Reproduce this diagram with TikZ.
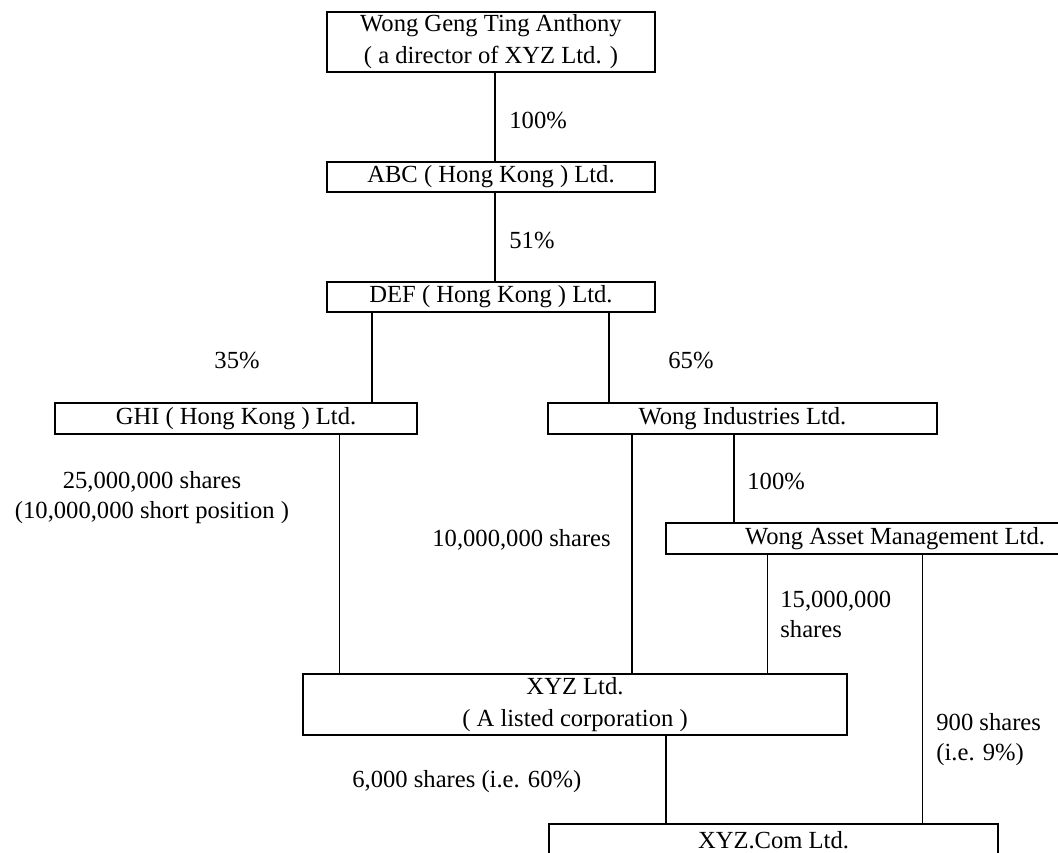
\documentclass[tikz,border=0pt]{standalone}
\usepackage{fontspec}
\setmainfont{Liberation Serif}
\begin{document}
\begin{tikzpicture}[x=0.5pt,y=-0.5pt,
  font=\fontsize{12.3pt}{15pt}\selectfont,
  firm/.style={draw,line width=1pt,inner sep=0pt,align=center,font=\fontsize{12.3pt}{16pt}\selectfont},
  own/.style={line width=1pt},
  hold/.style={line width=0.5pt},
  pct/.style={inner sep=0pt,anchor=west,align=left}]
\useasboundingbox (0,0) rectangle (1058,852);
\clip (0,0) rectangle (1058,852);

\node[firm,minimum width=164pt,minimum height=30pt] (anthony) at (491,42) {Wong Geng Ting Anthony\\ ( a director of XYZ Ltd. )};
\node[firm,minimum width=164pt,minimum height=15pt] (abc) at (491,177) {ABC ( Hong Kong ) Ltd.};
\node[firm,minimum width=164pt,minimum height=15pt] (def) at (491,297) {DEF ( Hong Kong ) Ltd.};
\node[firm,minimum width=181pt,minimum height=15.5pt] (ghi) at (236,418.5) {GHI ( Hong Kong ) Ltd.};
\node[firm,minimum width=194.5pt,minimum height=15.5pt] (wind) at (742.5,418.5) {Wong Industries Ltd.};
\node[firm,minimum width=229pt,minimum height=15.5pt] (wam) at (895,538.5) {Wong Asset Management Ltd.};
\node[firm,minimum width=272pt,minimum height=30.5pt] (xyz) at (575,704.5) {XYZ Ltd.\\( A listed corporation )};
\node[firm,minimum width=224.5pt,minimum height=16pt] (xyzcom) at (773.5,840) {XYZ.Com Ltd.};

% columns of the links
\coordinate (c495) at (495,0);
\coordinate (c372) at (372,0);
\coordinate (c609) at (609,0);
\coordinate (c339) at (339,0);
\coordinate (c632) at (632,0);
\coordinate (c734) at (734,0);
\coordinate (c767) at (767,0);
\coordinate (c922) at (922,0);
\coordinate (c666) at (666,0);

\path[draw,own] (anthony.south -| c495) -- (abc.north -| c495);
\path[draw,own] (abc.south -| c495) -- (def.north -| c495);
\path[draw,own] (def.south -| c372) -- (ghi.north -| c372);
\path[draw,own] (def.south -| c609) -- (wind.north -| c609);
\path[draw,hold] (ghi.south -| c339) -- (xyz.north -| c339);
\path[draw,own] (wind.south -| c632) -- (xyz.north -| c632);
\path[draw,own] (wind.south -| c734) -- (wam.north -| c734);
\path[draw,hold] (wam.south -| c767) -- (xyz.north -| c767);
\path[draw,hold] (wam.south -| c922) -- (xyzcom.north -| c922);
\path[draw,own] (xyz.south -| c666) -- (xyzcom.north -| c666);

% holdings
\node[pct] (p100a) at (509,120) {100\%};
\node[pct] (p51) at (509,240) {51\%};
\node[pct,anchor=center] (p35) at (237,360) {35\%};
\node[pct] (p65) at (668,360) {65\%};
\node[pct] (p100b) at (747,481) {100\%};
\node[pct,anchor=center,align=center] (sghi) at (152,498) {25,000,000 shares\\(10,000,000 short position )};
\node[pct] (swind) at (432,540) {10,000,000 shares};
\node[pct] (swam) at (780,614) {15,000,000\\shares};
\node[pct] (sxyz) at (352,782) {6,000 shares (i.e. 60\%)};
\node[pct] (scom) at (936,740) {900 shares\\(i.e. 9\%)};
\end{tikzpicture}
\end{document}
